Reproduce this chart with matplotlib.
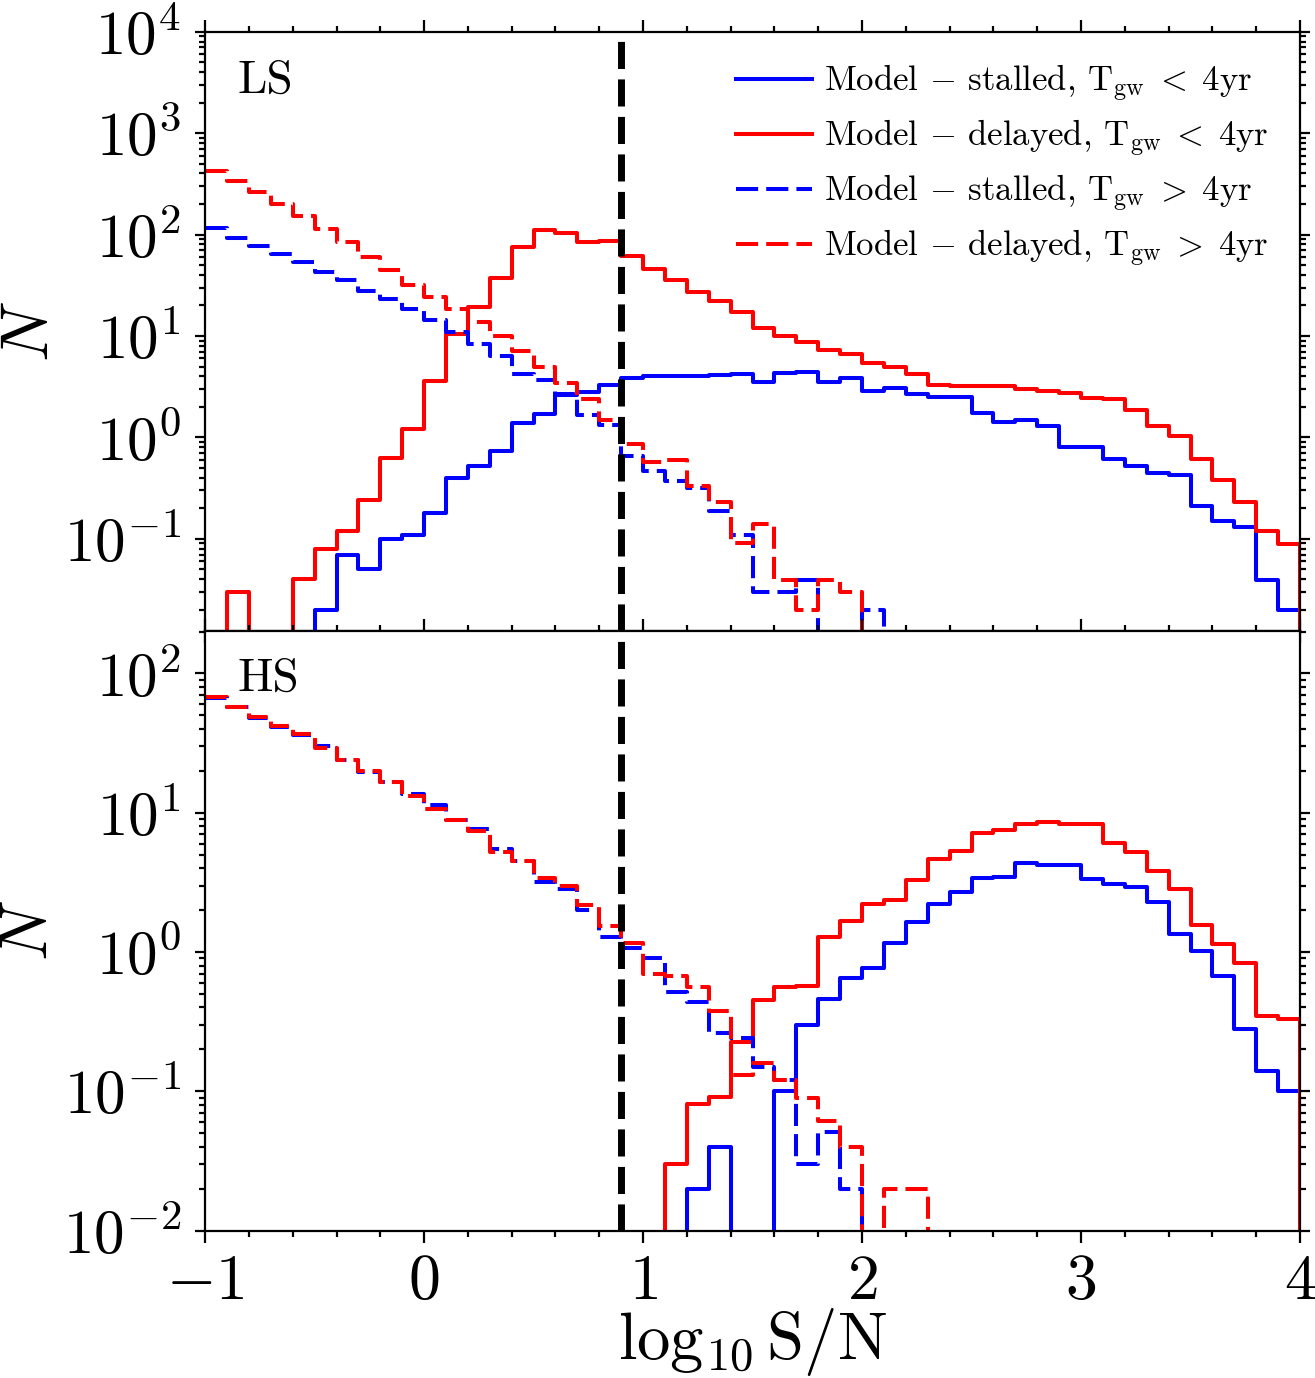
import numpy as np
import matplotlib
matplotlib.use('Agg')
import matplotlib.pyplot as plt
from matplotlib.ticker import MultipleLocator, LogLocator, NullFormatter

plt.rcParams['font.family'] = ['serif']
plt.rcParams['font.serif'] = ['cmr10', 'DejaVu Serif']
plt.rcParams['mathtext.fontset'] = 'cm'
plt.rcParams['axes.formatter.use_mathtext'] = True
plt.rcParams['axes.unicode_minus'] = True

# bins in log10 S/N
edges = np.round(np.arange(-1.0, 4.0001, 0.1), 2)
snr_cut = 0.9

# top panel (LS)
ls_stalled_lt = [0, 0, 0, 0, 0, 0.02, 0.07, 0.05, 0.10, 0.11,
                 0.18, 0.40, 0.52, 0.74, 1.39, 1.7, 2.6, 2.8, 3.26, 3.87,
                 4.03, 4.03, 4.07, 4.1, 4.25, 3.54, 4.34, 4.44, 3.54, 3.87,
                 2.9, 3.08, 2.65, 2.5, 2.5, 1.75, 1.41, 1.47, 1.29, 0.80,
                 0.80, 0.61, 0.52, 0.45, 0.43, 0.21, 0.15, 0.13, 0.039, 0.02]
ls_delayed_lt = [0, 0.03, 0, 0, 0.04, 0.079, 0.12, 0.24, 0.63, 1.2,
                 3.6, 10.5, 19.4, 37, 75, 110, 103, 85, 87, 62,
                 46, 36, 27, 22, 17.4, 12, 10, 8.7, 7.3, 6.6,
                 5.4, 4.9, 4.2, 3.3, 3.2, 3.2, 3.2, 3.0, 2.9, 2.75,
                 2.46, 2.4, 1.88, 1.31, 1.03, 0.61, 0.38, 0.23, 0.12, 0.089]
ls_stalled_gt = [116, 92, 77, 64, 54, 43, 35.5, 27.8, 23, 18.4,
                 14.3, 11, 8.4, 6.4, 4.2, 3.7, 2.66, 1.68, 1.32, 0.65,
                 0.47, 0.37, 0.32, 0.19, 0.11, 0.03, 0.03, 0.039, 0, 0,
                 0.02, 0, 0, 0, 0, 0, 0, 0, 0, 0,
                 0, 0, 0, 0, 0, 0, 0, 0, 0, 0]
ls_delayed_gt = [427, 335, 261, 200, 151, 113, 84, 60, 45, 32,
                 24.5, 18.6, 13.7, 10, 7.1, 4.9, 3.4, 2.37, 1.47, 0.86,
                 0.57, 0.60, 0.33, 0.23, 0.091, 0.14, 0.039, 0.02, 0.039, 0.03,
                 0, 0, 0, 0, 0, 0, 0, 0, 0, 0,
                 0, 0, 0, 0, 0, 0, 0, 0, 0, 0]

# bottom panel (HS)
hs_stalled_lt = [0, 0, 0, 0, 0, 0, 0, 0, 0, 0,
                 0, 0, 0, 0, 0, 0, 0, 0, 0, 0,
                 0, 0, 0.02, 0.04, 0, 0, 0.10, 0.30, 0.46, 0.65,
                 0.77, 1.17, 1.65, 2.21, 2.71, 3.38, 3.44, 4.33, 4.2, 4.2,
                 3.34, 3.08, 2.91, 2.30, 1.34, 1.02, 0.67, 0.28, 0.14, 0.10]
hs_delayed_lt = [0, 0, 0, 0, 0, 0, 0, 0, 0, 0,
                 0, 0, 0, 0, 0, 0, 0, 0, 0, 0,
                 0, 0.03, 0.081, 0.091, 0.227, 0.45, 0.56, 0.57, 1.29, 1.68,
                 2.2, 2.36, 3.3, 4.65, 5.3, 7.1, 7.5, 8.3, 8.6, 8.25,
                 8.25, 6.1, 5.2, 3.8, 2.83, 1.56, 1.15, 0.84, 0.35, 0.33]
hs_stalled_gt = [67, 57, 48, 41, 36, 30, 24, 19.6, 16.5, 13.6,
                 11.4, 8.9, 7.7, 5.5, 4.5, 3.2, 2.85, 2.0, 1.28, 1.06,
                 0.91, 0.52, 0.44, 0.26, 0.24, 0.15, 0.12, 0.03, 0.051, 0.02,
                 0, 0, 0, 0, 0, 0, 0, 0, 0, 0,
                 0, 0, 0, 0, 0, 0, 0, 0, 0, 0]
hs_delayed_gt = [68, 57, 49, 42, 37, 29, 24, 20, 16.7, 13.2,
                 10.6, 8.8, 7.4, 5.2, 4.47, 3.4, 3.0, 2.19, 1.55, 1.17,
                 0.70, 0.67, 0.56, 0.38, 0.13, 0.16, 0.12, 0.09, 0.061, 0.04,
                 0, 0.02, 0.02, 0, 0, 0, 0, 0, 0, 0,
                 0, 0, 0, 0, 0, 0, 0, 0, 0, 0]

labels = [r'Model $-$ stalled, T$_{\rm gw}\;<\;{\rm 4yr}$',
          r'Model $-$ delayed, T$_{\rm gw}\;<\;{\rm 4yr}$',
          r'Model $-$ stalled, T$_{\rm gw}\;>\;{\rm 4yr}$',
          r'Model $-$ delayed, T$_{\rm gw}\;>\;{\rm 4yr}$']
colors = ['b', 'r', 'b', 'r']
dash = (0, (5.5, 2))
styles = ['-', '-', dash, dash]

fig, axs = plt.subplots(2, 1, figsize=(6.575, 6.89), dpi=200, sharex=True)
fig.subplots_adjust(left=0.156, right=0.9886, top=0.977, bottom=0.107, hspace=0)


def draw_hist(ax, series):
    for vals, c, ls, lab in zip(series, colors, styles, labels):
        y = np.append(np.array(vals, dtype=float), 0.0)
        ax.step(edges, y, where='post', color=c, ls=ls, lw=1.45, label=lab)


draw_hist(axs[0], [ls_stalled_lt, ls_delayed_lt, ls_stalled_gt, ls_delayed_gt])
draw_hist(axs[1], [hs_stalled_lt, hs_delayed_lt, hs_stalled_gt, hs_delayed_gt])

for ax in axs:
    ax.set_yscale('log', nonpositive='clip')
    ax.axvline(snr_cut, color='k', ls='--', lw=2.5, dashes=(3.9, 1.5))
    ax.set_xlim(-1, 4)
    ax.xaxis.set_major_locator(MultipleLocator(1))
    ax.xaxis.set_minor_locator(MultipleLocator(0.2))
    ax.yaxis.set_major_locator(LogLocator(base=10, numticks=15))
    ax.yaxis.set_minor_locator(LogLocator(base=10, subs=np.arange(2, 10), numticks=15))
    ax.yaxis.set_minor_formatter(NullFormatter())
    ax.tick_params(which='both', direction='out', top=True, right=True, labelsize=22, width=0.8)
    ax.tick_params(axis='x', which='major', length=4.3, pad=4, labelsize=23)
    ax.tick_params(axis='y', which='major', length=3.6, pad=5)
    ax.tick_params(which='minor', length=2)
    ax.set_ylabel(r'$N$', fontsize=24, labelpad=1)
    for s in ax.spines.values():
        s.set_linewidth(0.8)

axs[0].set_ylim(10 ** -1.91, 1e4)
axs[1].set_ylim(1e-2, 10 ** 2.304)

axs[0].text(0.03, 0.953, 'LS', transform=axs[0].transAxes, fontsize=17, va='top')
axs[1].text(0.03, 0.955, 'HS', transform=axs[1].transAxes, fontsize=17, va='top')

axs[0].legend(loc='upper right', frameon=False, fontsize=12.5, handlelength=2.2,
              labelspacing=0.4, borderaxespad=0.5, handletextpad=0.35)

axs[1].set_xlabel(r'$\log_{10}{\rm S/N}$', fontsize=24, labelpad=-2)

fig.savefig('out.png', dpi=200)
